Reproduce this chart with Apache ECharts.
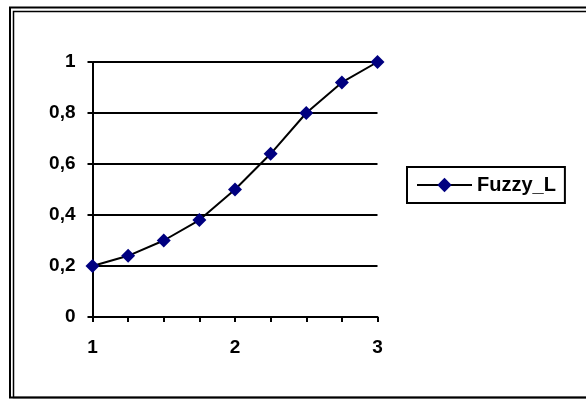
<!DOCTYPE html>
<html>
<head>
<meta charset="utf-8">
<script src="https://cdn.jsdelivr.net/npm/echarts@6/dist/echarts.min.js"></script>
<style>
  html, body { margin: 0; padding: 0; background: #fff; }
  #chart { width: 586px; height: 400px; }
</style>
</head>
<body>
<div id="chart"></div>
<script>
// data
const xValues = [1, 1.25, 1.5, 1.75, 2, 2.25, 2.5, 2.75, 3]
const yValues = [0.2, 0.24, 0.3, 0.38, 0.5, 0.64, 0.8, 0.92, 1]
const seriesName = 'Fuzzy_L'
const xTickLabels = [1, 2, 3]

const font = "'Liberation Sans', Arial, sans-serif"

let chart = echarts.init(document.getElementById('chart'))
chart.setOption({
  animation: false,
  backgroundColor: '#fff',
  // double frame round the whole chart (excel style)
  graphic: [
    {
      type: 'rect',
      shape: { x: 10, y: 7.5, width: 620, height: 390 },
      style: { fill: 'none', stroke: '#000', lineWidth: 2 }
    },
    {
      type: 'rect',
      shape: { x: 13.5, y: 11.5, width: 620, height: 386 },
      style: { fill: 'none', stroke: '#000', lineWidth: 1.5 }
    }
  ],
  grid: {
    left: 92.5,
    right: 208.5,
    top: 62,
    bottom: 83
  },
  legend: {
    left: 407,
    top: 167,
    orient: 'vertical',
    padding: [8, 9, 8, 9],
    borderColor: '#000',
    borderWidth: 2,
    itemWidth: 55,
    itemHeight: 18,
    lineStyle: { color: '#000', width: 2 },
    textStyle: {
      color: '#000',
      fontWeight: 'bold',
      fontSize: 20,
      fontFamily: font
    },
    data: [seriesName]
  },
  xAxis: {
    type: 'value',
    min: 1,
    max: 3,
    interval: 0.25,
    axisLine: {
      lineStyle: { color: '#000', width: 2 }
    },
    axisTick: {
      length: 5,
      lineStyle: { color: '#000', width: 2 }
    },
    axisLabel: {
      color: '#000',
      fontWeight: 'bold',
      fontSize: 19,
      fontFamily: font,
      margin: 21,
      formatter: v => (xTickLabels.indexOf(v) >= 0 ? String(v) : '')
    },
    splitLine: { show: false }
  },
  yAxis: {
    type: 'value',
    min: 0,
    max: 1,
    interval: 0.2,
    axisLine: {
      show: true,
      lineStyle: { color: '#000', width: 2 }
    },
    axisTick: {
      show: true,
      length: 5,
      lineStyle: { color: '#000', width: 2 }
    },
    axisLabel: {
      color: '#000',
      fontWeight: 'bold',
      fontSize: 19,
      fontFamily: font,
      margin: 17,
      // decimal comma
      formatter: v => String(Math.round(v * 10) / 10).replace('.', ',')
    },
    splitLine: {
      show: true,
      lineStyle: { color: '#000', width: 2 }
    }
  },
  series: [
    {
      name: seriesName,
      type: 'line',
      data: xValues.map((x, i) => [x, yValues[i]]),
      symbol: 'diamond',
      symbolSize: 14,
      showAllSymbol: true,
      itemStyle: { color: '#000080' },
      lineStyle: { color: '#000', width: 2 },
      z: 5
    }
  ]
})
</script>
</body>
</html>
